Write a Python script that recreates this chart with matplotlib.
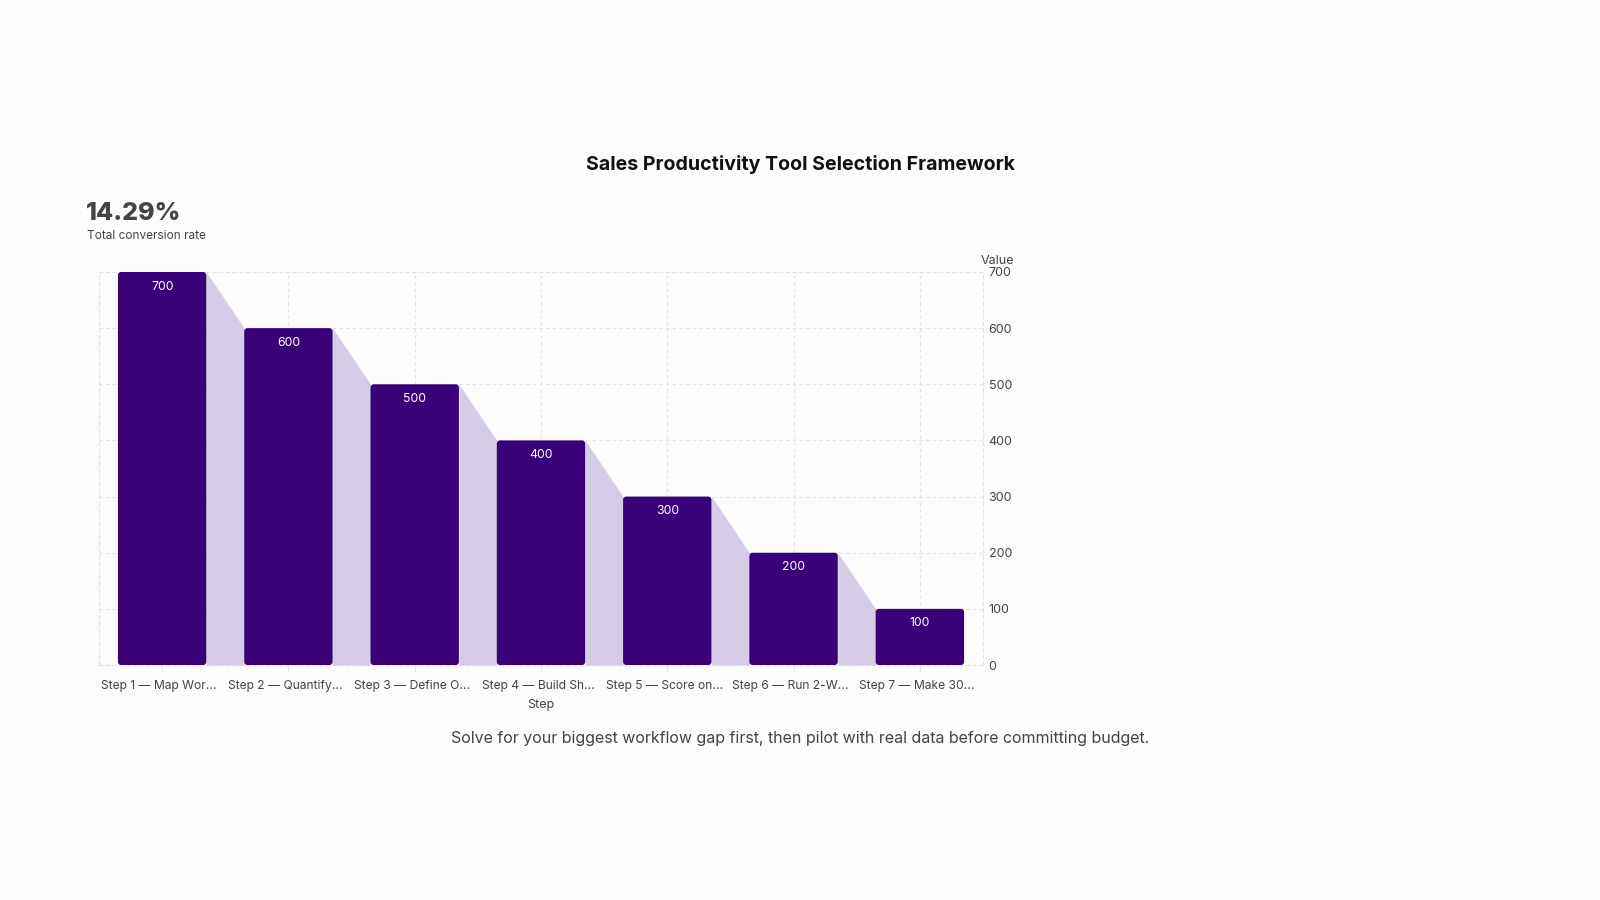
import numpy as np
import matplotlib.pyplot as plt
import matplotlib.transforms as mtransforms
from matplotlib.patches import FancyBboxPatch

plt.rcParams['font.family'] = ['Inter', 'DejaVu Sans']

# DATA
steps = ["Step 1 — Map Wor...", "Step 2 — Quantify...", "Step 3 — Define O...",
         "Step 4 — Build Sh...", "Step 5 — Score on...", "Step 6 — Run 2-W...",
         "Step 7 — Make 30..."]
values = [700, 600, 500, 400, 300, 200, 100]
y_ticks = [0, 100, 200, 300, 400, 500, 600, 700]

TITLE = "Sales Productivity Tool Selection Framework"
KPI = "14.29%"
KPI_LABEL = "Total conversion rate"
FOOTER = "Solve for your biggest workflow gap first, then pilot with real data before committing budget."

BAR_COLOR = "#3a0078"
SHADE_COLOR = "#d6cce6"
GRID_COLOR = "#e2e2e2"
TEXT_COLOR = "#444444"
BG = "#fcfcfc"
BAR_W = 0.7


def main():
    fig = plt.figure(figsize=(16, 9), dpi=100, facecolor=BG)
    ax = fig.add_axes([99/1600, 1 - 665/900, (983-99)/1600, (665-272)/900])
    ax.set_facecolor(BG)

    x = np.arange(len(values))
    ax.set_xlim(-0.5, len(values) - 0.5)
    ax.set_ylim(0, 700)

    # connector shading between bars
    for i in range(len(values) - 1):
        ax.fill_between([x[i] + BAR_W/2, x[i+1] - BAR_W/2], [values[i], values[i+1]], 0,
                        color=SHADE_COLOR, lw=0, zorder=1)

    # bars with slightly rounded corners
    bars = ax.bar(x, values, width=BAR_W, color=BAR_COLOR, zorder=2)
    fig.canvas.draw()
    px_x = ax.transData.transform((1, 0))[0] - ax.transData.transform((0, 0))[0]
    px_y = ax.transData.transform((0, 1))[1] - ax.transData.transform((0, 0))[1]
    for b in bars:
        b.set_visible(False)
        r = FancyBboxPatch((b.get_x(), b.get_y()), b.get_width(), b.get_height(),
                           boxstyle="round,pad=0,rounding_size=0.025",
                           mutation_aspect=px_x / px_y,
                           fc=BAR_COLOR, ec='none', zorder=3)
        ax.add_patch(r)

    # value labels
    for xi, v in zip(x, values):
        ax.annotate(str(v), xy=(xi, v), xytext=(0, -10.5), textcoords='offset points',
                    ha='center', va='center', color='white', fontsize=8.8, zorder=4)

    # grid
    ax.set_xticks(x)
    ax.set_xticklabels(steps)
    ax.set_yticks(y_ticks)
    ax.grid(True, color=GRID_COLOR, linestyle=(0, (3, 3)), lw=0.8, zorder=0)
    ax.set_axisbelow(True)
    for s in ax.spines.values():
        s.set_linestyle((0, (3, 3)))
        s.set_color(GRID_COLOR)
        s.set_linewidth(0.8)
        s.set_zorder(0.5)

    ax.yaxis.tick_right()
    ax.tick_params(axis='y', length=0, pad=4, labelsize=9, labelcolor=TEXT_COLOR)
    ax.tick_params(axis='x', length=5, color=GRID_COLOR, pad=6, labelsize=8.7, labelcolor=TEXT_COLOR)
    # nudge x tick labels slightly left, as in the reference
    shift = mtransforms.ScaledTranslation(-3/100, 0, fig.dpi_scale_trans)
    for lbl in ax.get_xticklabels():
        lbl.set_transform(lbl.get_transform() + shift)
    ax.set_xlabel("Step", fontsize=9, color=TEXT_COLOR, labelpad=5)
    ax.text(1.016, 1.028, "Value", transform=ax.transAxes, ha='center', va='center',
            fontsize=9, color=TEXT_COLOR)

    # titles and annotations
    fig.text(0.5, 1 - 164/900, TITLE, ha='center', va='center', fontsize=14.1,
             fontweight='bold', color='#111111')
    fig.text(86/1600, 1 - 214/900, KPI, ha='left', va='center', fontsize=18,
             fontweight='heavy', color=TEXT_COLOR)
    fig.text(87/1600, 1 - 236/900, KPI_LABEL, ha='left', va='center', fontsize=8.5,
             color=TEXT_COLOR)
    fig.text(0.5, 1 - 739/900, FOOTER, ha='center', va='center', fontsize=11.5,
             color=TEXT_COLOR)

    fig.savefig("out.png", dpi=100, facecolor=BG)


if __name__ == '__main__':
    main()
